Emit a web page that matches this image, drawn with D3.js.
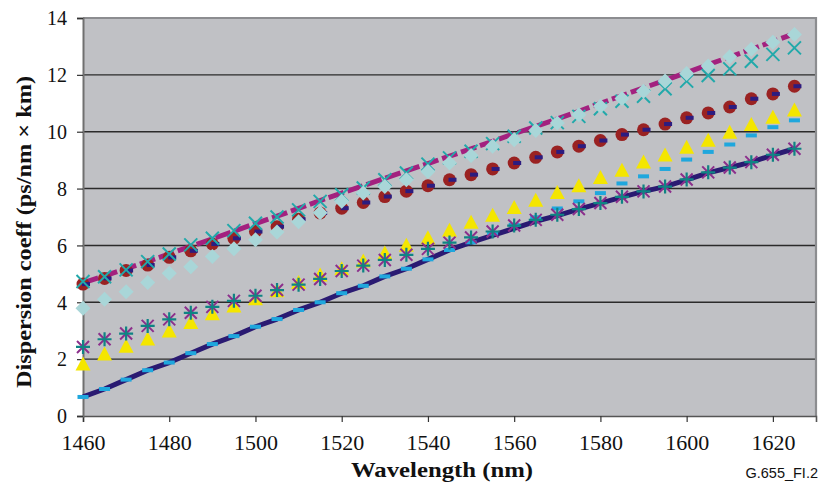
<!DOCTYPE html>
<html>
<head>
<meta charset="utf-8">
<script src="https://cdn.jsdelivr.net/npm/d3@7"></script>
<style>
html,body{margin:0;padding:0;background:#fff;}
svg{display:block;}
</style>
</head>
<body>
<svg id="chart" width="821" height="495"></svg>
<script>
// ---- data ----
const wavelengths = [1460,1465,1470,1475,1480,1485,1490,1495,1500,1505,1510,1515,1520,1525,1530,1535,1540,1545,1550,1555,1560,1565,1570,1575,1580,1585,1590,1595,1600,1605,1610,1615,1620,1625];
const xTicks = [1460,1480,1500,1520,1540,1560,1580,1600,1620];
const yTicks = [0,2,4,6,8,10,12,14];

const magentaLine = [4.68,4.93,5.18,5.44,5.70,5.97,6.23,6.50,6.77,7.03,7.30,7.58,7.84,8.10,8.36,8.62,8.88,9.14,9.40,9.66,9.93,10.19,10.45,10.72,11.00,11.27,11.54,11.81,12.08,12.36,12.63,12.90,13.17,13.45];
const tealCross = [4.73,4.90,5.14,5.43,5.70,6.02,6.25,6.52,6.78,7.00,7.25,7.55,7.78,8.02,8.31,8.55,8.86,9.08,9.31,9.58,9.84,10.13,10.32,10.54,10.81,11.07,11.25,11.51,11.78,11.98,12.21,12.48,12.72,12.95];
const diamonds = [3.79,4.11,4.37,4.70,5.02,5.25,5.61,5.88,6.20,6.47,6.83,7.15,7.55,7.84,8.07,8.31,8.60,8.90,9.16,9.49,9.72,10.04,10.31,10.60,10.90,11.17,11.42,11.78,12.05,12.31,12.64,12.90,13.15,13.42];
const circles = [4.64,4.84,5.12,5.31,5.58,5.81,6.05,6.25,6.49,6.66,6.92,7.14,7.31,7.51,7.72,7.91,8.10,8.31,8.49,8.69,8.90,9.10,9.29,9.49,9.69,9.90,10.07,10.27,10.49,10.66,10.87,11.16,11.33,11.60];
const navyDash = [4.64,4.84,5.12,5.31,5.58,5.81,6.05,6.25,6.49,6.66,6.92,7.14,7.31,7.51,7.72,7.91,8.10,8.31,8.49,8.69,8.90,9.10,9.29,9.49,9.69,9.90,10.07,10.27,10.49,10.66,10.87,11.16,11.33,11.60];
const triangles = [1.85,2.20,2.47,2.73,3.01,3.31,3.61,3.89,4.14,4.42,4.71,4.98,5.20,5.47,5.75,6.02,6.29,6.55,6.83,7.08,7.35,7.61,7.88,8.12,8.41,8.66,8.95,9.20,9.47,9.72,10.00,10.27,10.53,10.78];
const blueDash = [0.67,0.95,1.28,1.61,1.88,2.21,2.53,2.81,3.14,3.41,3.73,4.00,4.32,4.58,4.91,5.18,5.51,5.84,6.11,6.42,6.72,6.99,7.30,7.55,7.84,8.18,8.43,8.69,9.02,9.29,9.55,9.87,10.16,10.40];
const navyLine = [0.67,0.95,1.28,1.61,1.88,2.21,2.53,2.81,3.14,3.41,3.73,4.00,4.32,4.58,4.91,5.18,5.51,5.84,6.11,6.35,6.60,6.85,7.05,7.28,7.49,7.70,7.90,8.07,8.31,8.55,8.74,8.93,9.18,9.40];
const stars = [2.43,2.70,2.90,3.17,3.40,3.63,3.84,4.05,4.23,4.43,4.62,4.82,5.10,5.29,5.49,5.67,5.88,6.10,6.28,6.49,6.70,6.90,7.08,7.28,7.49,7.71,7.90,8.07,8.32,8.57,8.74,8.93,9.19,9.40];

const yTitle = "Dispersion coeff (ps/nm \u00d7 km)";
const xTitle = "Wavelength (nm)";
const figId = "G.655_FI.2";

// ---- layout ----
const svg = d3.select("#chart");
const pLeft = 83, pRight = 816, pTop = 18, pBottom = 416;
const x = d3.scaleLinear().domain([1460, 1630]).range([pLeft, pRight]);
const y = d3.scaleLinear().domain([0, 14]).range([pBottom, pTop]);
const serif = "'Liberation Serif', 'Times New Roman', serif";

// plot background
svg.append("rect").attr("x", pLeft).attr("y", pTop).attr("width", pRight - pLeft).attr("height", pBottom - pTop)
  .attr("fill", "#c0c1c5");

// gridlines
svg.append("g").selectAll("line").data(yTicks.filter(d => d > 0 && d < 14)).join("line")
  .attr("x1", pLeft).attr("x2", pRight).attr("y1", d => y(d)).attr("y2", d => y(d))
  .attr("stroke", "#2b2b2b").attr("stroke-width", 1.4);

// border top/right
svg.append("path").attr("d", `M${pLeft},${pTop}H${pRight}V${pBottom}`).attr("fill", "none")
  .attr("stroke", "#8c8d90").attr("stroke-width", 2.2);

// axes
const xAxis = d3.axisBottom(x).tickValues(xTicks).tickSize(6).tickPadding(14).tickFormat(d3.format("d"));
const gx = svg.append("g").attr("transform", `translate(0,${pBottom})`).call(xAxis);
gx.attr("font-family", null).attr("font-size", null);
gx.select(".domain").attr("stroke", "#555").attr("stroke-width", 1.6);
gx.selectAll(".tick line").attr("stroke", "#333").attr("stroke-width", 1.2);
gx.selectAll(".tick text").style("font-family", serif).style("font-size", "20px").attr("fill", "#111")
  .attr("textLength", 44).attr("lengthAdjust", "spacingAndGlyphs");

const yAxis = d3.axisLeft(y).tickValues(yTicks).tickSize(6).tickPadding(10);
const gy = svg.append("g").attr("transform", `translate(${pLeft},0)`).call(yAxis);
gy.attr("font-family", null).attr("font-size", null);
gy.select(".domain").attr("stroke", "#707070").attr("stroke-width", 2);
gy.selectAll(".tick line").attr("stroke", "#333").attr("stroke-width", 1.2);
gy.selectAll(".tick text").style("font-family", serif).style("font-size", "20px").attr("fill", "#111")
  .attr("dy", "0.34em");

// titles
svg.append("text").attr("transform", `translate(31,232) rotate(-90)`).attr("text-anchor", "middle")
  .style("font-family", serif).style("font-weight", "bold").style("font-size", "21px").attr("fill", "#111")
  .attr("textLength", 312).attr("lengthAdjust", "spacingAndGlyphs").text(yTitle);
svg.append("text").attr("x", 442).attr("y", 477).attr("text-anchor", "middle")
  .style("font-family", serif).style("font-weight", "bold").style("font-size", "21px").attr("fill", "#111")
  .attr("textLength", 182).attr("lengthAdjust", "spacingAndGlyphs").text(xTitle);
svg.append("text").attr("x", 818).attr("y", 478).attr("text-anchor", "end")
  .style("font-family", "'Liberation Sans', Arial, sans-serif").style("font-size", "14.5px").attr("fill", "#111")
  .text(figId);

// ---- series ----
const pts = vals => vals.map((v, i) => [wavelengths[i], v]);
const lineGen = d3.line().x(d => x(d[0])).y(d => y(d[1]));
const plot = svg.append("g");

plot.append("path").datum(pts(magentaLine)).attr("d", lineGen).attr("fill", "none")
  .attr("stroke", "#a3217f").attr("stroke-width", 5).attr("stroke-dasharray", "16,4");
plot.append("path").datum(pts(navyLine)).attr("d", lineGen).attr("fill", "none")
  .attr("stroke", "#2a1a72").attr("stroke-width", 5).attr("stroke-linejoin", "round");

// circles
plot.append("g").selectAll("circle").data(pts(circles)).join("circle")
  .attr("cx", d => x(d[0])).attr("cy", d => y(d[1])).attr("r", 6.5).attr("fill", "#9a2222");
// navy dashes
plot.append("g").selectAll("rect").data(pts(navyDash)).join("rect")
  .attr("x", d => x(d[0]) - 1).attr("y", d => y(d[1]) - 2).attr("width", 8).attr("height", 4)
  .attr("fill", "#2c1c80");
// teal crosses
plot.append("g").selectAll("path").data(pts(tealCross)).join("path")
  .attr("d", d => { const cx = x(d[0]), cy = y(d[1]), s = 6.5; return `M${cx-s},${cy-s}L${cx+s},${cy+s}M${cx-s},${cy+s}L${cx+s},${cy-s}`; })
  .attr("stroke", "#22a9aa").attr("stroke-width", 2).attr("fill", "none");
// diamonds
plot.append("g").selectAll("path").data(pts(diamonds)).join("path")
  .attr("d", d => { const cx = x(d[0]), cy = y(d[1]), s = 7.5; return `M${cx},${cy-s}L${cx+s},${cy}L${cx},${cy+s}L${cx-s},${cy}Z`; })
  .attr("fill", "#a9d6d8");
// triangles
plot.append("g").selectAll("path").data(pts(triangles)).join("path")
  .attr("d", d => { const cx = x(d[0]), cy = y(d[1]); return `M${cx},${cy-7}L${cx+7.5},${cy+7}L${cx-7.5},${cy+7}Z`; })
  .attr("fill", "#f4e600");
// light blue dashes
plot.append("g").selectAll("rect").data(pts(blueDash)).join("rect")
  .attr("x", d => x(d[0]) - 5.5).attr("y", d => y(d[1]) - 2).attr("width", 11).attr("height", 4)
  .attr("fill", "#1fa7dd");
// stars
const sg = plot.append("g").selectAll("g").data(pts(stars)).join("g");
sg.append("path")
  .attr("d", d => { const cx = x(d[0]), cy = y(d[1]), s = 6; return `M${cx-s},${cy-s}L${cx+s},${cy+s}M${cx-s},${cy+s}L${cx+s},${cy-s}`; })
  .attr("stroke", "#8c2f8c").attr("stroke-width", 2).attr("fill", "none");
sg.append("path")
  .attr("d", d => { const cx = x(d[0]), cy = y(d[1]), s = 7; return `M${cx-s},${cy}L${cx+s},${cy}M${cx},${cy-s}L${cx},${cy+s}`; })
  .attr("stroke", "#0f8484").attr("stroke-width", 2.2).attr("fill", "none");
</script>
</body>
</html>
